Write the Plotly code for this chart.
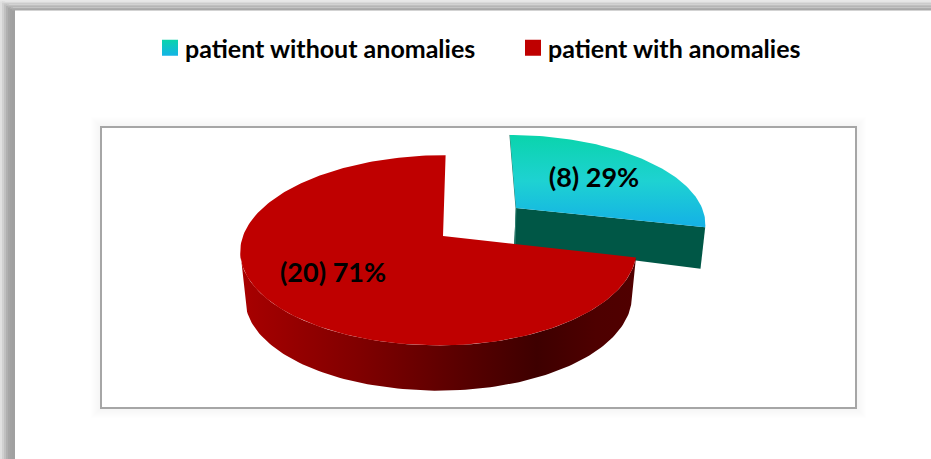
import numpy as np
import plotly.graph_objects as go

categories = ["patient without anomalies", "patient with anomalies"]
counts = [8, 20]
percent_labels = ["29%", "71%"]

W, H = 931, 459
FONT = "Lato"
total = sum(counts)
split = 360 * counts[0] / total
K = 0.15


def rim(theta, ax, ay, a, b_right, b_left, skew, scale=1.0, dy=0.0):
    t = np.radians(theta)
    u, v = np.sin(t), -np.cos(t)
    b = np.where(u >= 0, b_right, b_left)
    den = 1 - K * v
    return ax + scale * (b * u + skew * v) / den, ay + dy + scale * a * v / den


fig = go.Figure()

# --- slice geometry ---
cy = dict(ax=516, ay=208, a=84, b_right=186, b_left=186, skew=7)
rd = dict(ax=443, ay=236, a=93, b_right=192, b_left=200, skew=-3)

# cyan wall
th = np.linspace(split - 26, split, 30)
x1, y1 = rim(th, **cy)
x2, y2 = rim(th[::-1], **cy, scale=0.975, dy=42)
apx, apy = cy["ax"], cy["ay"]
fig.add_trace(go.Scatter(x=[apx, x1[-1], x2[0], apx - 2, apx], y=[apy, y1[-1], y2[0], apy + 37, apy],
                         mode="lines", fill="toself", fillcolor="#005746", line=dict(width=0),
                         showlegend=False, hoverinfo="skip"))
# thin inner wall sliver
x0, y0 = rim(np.array([0.0]), **cy)
fig.add_trace(go.Scatter(x=[x0[0], apx, apx - 1], y=[y0[0], apy, apy + 37], mode="lines",
                         line=dict(color="#2f7f70", width=1), showlegend=False, hoverinfo="skip"))
# cyan top
th = np.linspace(0, split, 80)
x, y = rim(th, **cy)
fig.add_trace(go.Scatter(x=np.r_[apx, x, apx], y=np.r_[apy, y, apy], mode="lines", fill="toself",
                         line=dict(width=0),
                         fillgradient=dict(type="vertical",
                                           colorscale=[[0, "#14b0e6"], [0.5, "#1ed2d2"], [1, "#0ad4ac"]]),
                         showlegend=False, hoverinfo="skip"))

# red wall
th = np.linspace(split, 261, 120)
x1, y1 = rim(th, **rd)
x2, y2 = rim(th[::-1], **rd, scale=0.975, dy=48)
fig.add_trace(go.Scatter(x=np.r_[x1, x2], y=np.r_[y1, y2], mode="lines", fill="toself",
                         line=dict(width=0),
                         fillgradient=dict(type="horizontal",
                                           colorscale=[[0, "#a80000"], [0.3, "#800000"], [0.55, "#5a0000"],
                                                       [0.75, "#3e0000"], [0.9, "#4e0000"], [1, "#500000"]]),
                         showlegend=False, hoverinfo="skip"))
# red top
th = np.linspace(split, 360, 200)
x, y = rim(th, **rd)
fig.add_trace(go.Scatter(x=np.r_[rd["ax"], x, rd["ax"]], y=np.r_[rd["ay"], y, rd["ay"]], mode="lines",
                         fill="toself", fillcolor="#bf0000", line=dict(width=0),
                         showlegend=False, hoverinfo="skip"))

# data labels
labels = [f"({c}) {p}" for c, p in zip(counts, percent_labels)]
fig.add_trace(go.Scatter(x=[594, 333], y=[180, 275], mode="text", text=labels,
                         textfont=dict(family=FONT, size=27, color="#000000", weight="bold"),
                         textposition="middle center", showlegend=False, hoverinfo="skip"))

# legend entries
fig.add_trace(go.Scatter(x=[None], y=[None], mode="markers", name=categories[0],
                         marker=dict(symbol="square", size=16, color="#0ad4ac",
                                     gradient=dict(type="vertical", color="#14b4e6"))))
fig.add_trace(go.Scatter(x=[None], y=[None], mode="markers", name=categories[1],
                         marker=dict(symbol="square", size=16, color="#bf0000")))

# --- frame shapes ---
shapes = []
# outer band: left and top
for i, col in enumerate(["#e0e0e0", "#d0d0d0", "#c0c0c0", "#b0b0b0", "#a6a6a6", "#a2a2a2", "#a0a0a0"]):
    shapes.append(dict(type="rect", x0=i * 2, x1=(i + 1) * 2 + 1, y0=min(i * 1.5, 10), y1=H,
                       fillcolor=col, line=dict(width=0), layer="below"))
for i, col in enumerate(["#e8e8e8", "#dadada", "#cccccc", "#c0c0c0", "#b6b6b6", "#adadad", "#a8a8a8"]):
    shapes.append(dict(type="rect", x0=i * 2, x1=W, y0=i * 1.5, y1=(i + 1) * 1.5,
                       fillcolor=col, line=dict(width=0), layer="below"))
# frame shadow
for i in range(10, 0, -1):
    shapes.append(dict(type="rect", x0=101 - i, x1=856 + i, y0=127 - i, y1=408 + i,
                       fillcolor="rgba(0,0,0,0.005)", line=dict(width=0), layer="below"))
shapes.append(dict(type="rect", x0=101, x1=856, y0=127, y1=408, fillcolor="#ffffff",
                   line=dict(color="#a6a6a6", width=2), layer="below"))

fig.update_layout(
    width=W, height=H, margin=dict(l=0, r=0, t=0, b=0),
    paper_bgcolor="#ffffff", plot_bgcolor="rgba(0,0,0,0)",
    xaxis=dict(range=[0, W], visible=False, fixedrange=True),
    yaxis=dict(range=[H, 0], visible=False, fixedrange=True),
    shapes=shapes,
    legend=dict(orientation="h", x=145 / W, y=1 - 25 / H, xanchor="left", yanchor="top",
                font=dict(family=FONT, size=25, color="#000000", weight="bold"),
                entrywidth=318, entrywidthmode="pixels", itemwidth=30, bgcolor="rgba(0,0,0,0)",
                itemclick=False, itemdoubleclick=False),
)

fig.write_html("out.html", config=dict(displayModeBar=False),
               post_script="document.body.style.margin='0';"
                           "document.querySelectorAll('.legendsymbols').forEach("
                           "e=>e.setAttribute('transform','translate(5,0)'));")
